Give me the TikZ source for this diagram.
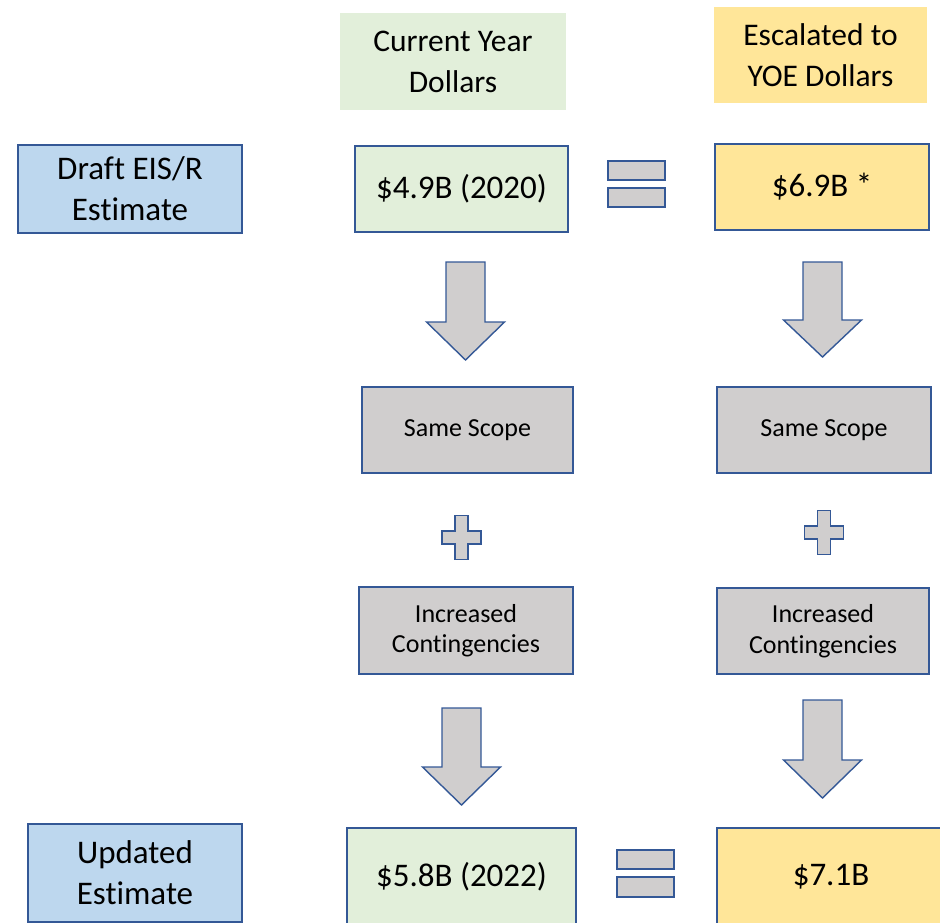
\documentclass[tikz,border=0pt]{standalone}
\usepackage{fontspec}
\setmainfont{Carlito}[Ligatures=NoCommon]
\usetikzlibrary{positioning}

\definecolor{boxline}{RGB}{52,88,150}
\definecolor{bluefill}{RGB}{189,215,238}
\definecolor{greenfill}{RGB}{226,239,218}
\definecolor{yellowfill}{RGB}{255,230,153}
\definecolor{grayfill}{RGB}{208,206,206}

\tikzset{
    box/.style={draw=boxline, line width=1.4pt, rectangle, align=center, inner sep=0pt},
    header/.style={rectangle, align=center, inner sep=0pt, font=\fontsize{31.5}{41}\selectfont},
    bigtext/.style={font=\fontsize{33}{41}\selectfont},
    smalltext/.style={font=\fontsize{26}{30.5}\selectfont},
    blockshape/.style={draw=boxline, line width=1.4pt, fill=grayfill, line join=miter}
}

\begin{document}
\begin{tikzpicture}[x=1pt, y=-1pt]
    \useasboundingbox (0,0) rectangle (940,923);

    % Column headers
    \node[header, fill=greenfill, minimum width=226, minimum height=97] (hdrcur) at (453,62) {Current Year\\Dollars};
    \node[header, fill=yellowfill, minimum width=213, minimum height=96] (hdresc) at (820.5,55.5) {Escalated to\\YOE Dollars};

    % Draft estimate row
    \node[box, bigtext, fill=bluefill, minimum width=224, minimum height=88] (draft) at (130,189) {Draft EIS/R\\Estimate};
    \node[box, bigtext, fill=greenfill, minimum width=213, minimum height=86] (curdraft) at (461.5,189) {\$4.9B (2020)};
    \node[box, bigtext, fill=yellowfill, minimum width=214, minimum height=86] (escdraft) at (822,187) {\$6.9B *};

    % Scope and contingencies
    \node[box, smalltext, fill=grayfill, minimum width=211, minimum height=86] (scopecur) at (467.5,430) {Same Scope};
    \node[box, smalltext, fill=grayfill, minimum width=214, minimum height=86] (scopeesc) at (824,430) {Same Scope};
    \node[box, smalltext, fill=grayfill, minimum width=214, minimum height=87] (contcur) at (466,630.5) {Increased\\Contingencies};
    \node[box, smalltext, fill=grayfill, minimum width=212, minimum height=86] (contesc) at (823,631) {Increased\\Contingencies};

    % Updated estimate row
    \node[box, bigtext, fill=bluefill, minimum width=214, minimum height=98] (updated) at (135,873) {Updated\\Estimate};
    \node[box, bigtext, fill=greenfill, minimum width=229, minimum height=97] (curupd) at (461.5,876.5) {\$5.8B (2022)};
    \node[box, bigtext, fill=yellowfill, minimum width=228, minimum height=97] (escupd) at (831,876.5) {\$7.1B};

    % Block arrows (centre x / top / neck / tip)
    \foreach \cx/\top/\neck/\tip in {465.5/262/322/360, 822.5/262/320/357, 461.5/708/767/805, 822.5/700/760/798}{
        \draw[blockshape] ({\cx-19.5},\top) -- ({\cx+19.5},\top) -- ({\cx+19.5},\neck) -- ({\cx+39},\neck)
            -- (\cx,\tip) -- ({\cx-39},\neck) -- ({\cx-19.5},\neck) -- cycle;
    }

    % Plus signs
    \foreach \cx/\cy in {461.5/537.5, 824/532.5}{
        \draw[blockshape] ({\cx-6.5},{\cy-22}) -- ({\cx+6.5},{\cy-22}) -- ({\cx+6.5},{\cy-6.5}) -- ({\cx+19.5},{\cy-6.5})
            -- ({\cx+19.5},{\cy+6.5}) -- ({\cx+6.5},{\cy+6.5}) -- ({\cx+6.5},{\cy+22}) -- ({\cx-6.5},{\cy+22})
            -- ({\cx-6.5},{\cy+6.5}) -- ({\cx-19.5},{\cy+6.5}) -- ({\cx-19.5},{\cy-6.5}) -- ({\cx-6.5},{\cy-6.5}) -- cycle;
    }

    % Equals signs
    \draw[blockshape] (608,161) rectangle (665,180);
    \draw[blockshape] (608,188) rectangle (665,207);
    \draw[blockshape] (617,850) rectangle (674,869);
    \draw[blockshape] (617,877) rectangle (674,897);
\end{tikzpicture}
\end{document}
